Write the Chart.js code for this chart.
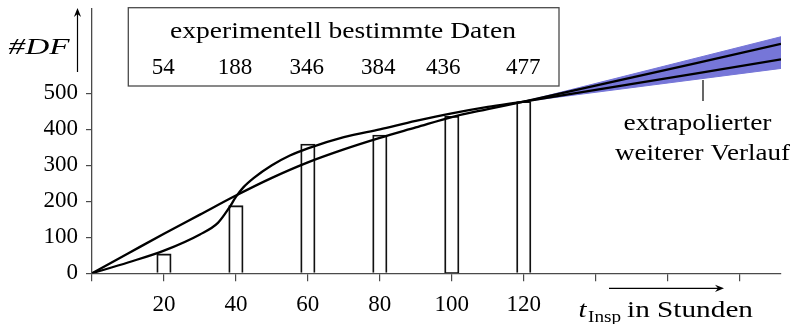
<!DOCTYPE html>
<html><head><meta charset="utf-8">
<script src="https://cdn.jsdelivr.net/npm/chart.js@4/dist/chart.umd.min.js"></script>
<style>html,body{margin:0;padding:0;background:#fff}#wrap{position:relative;width:794px;height:324px}</style>
</head><body><div id="wrap"><canvas id="c" width="794" height="324"></canvas></div>
<script>
// ---- data ----
const barX = [20, 40, 60, 80, 100, 120];
const barValues = [54, 188, 359, 384, 436, 477];
const tableTitle = 'experimentell bestimmte Daten';
const tableLabels = ['54', '188', '346', '384', '436', '477'];

const curveAX = [0, 10, 20, 30, 40, 50, 60, 70, 80, 90, 100, 110, 120, 191.5];
const curveAY = [0, 55, 110, 163, 216, 265, 308, 344, 376, 405, 434, 456, 477, 637];

const curveBX = [0, 10, 20, 30, 35, 38, 40, 42, 45, 50, 55, 60, 70, 80, 90, 100, 110, 120, 191.5];
const curveBY = [0, 30, 63, 108, 140, 180, 212, 238, 265, 300, 327, 347, 378, 400, 423, 444, 462, 477, 594];

const bandX = [120, 191.5];
const bandUpper = [477, 657];
const bandLower = [477, 569];

const xTicks = [0, 20, 40, 60, 80, 100, 120, 140, 160, 180];
const xTickLabels = ['', '20', '40', '60', '80', '100', '120', '', '', ''];
const yTicks = [0, 100, 200, 300, 400, 500];
const yTickLabels = ['0', '100', '200', '300', '400', '500'];

const yLabel = '#DF';
const xLabelMain = 't';
const xLabelSub = 'Insp';
const xLabelRest = ' in Stunden';
const noteLines = ['extrapolierter', 'weiterer Verlauf'];

// ---- helpers ----
const pts = (xs, ys) => xs.map((x, i) => ({x: x, y: ys[i]}));
const SERIF = '"Liberation Serif", "DejaVu Serif", serif';
const FS = 23;
const AXIS = '#4a4a4a';

function arrow(ctx, x1, y1, x2, y2) {
  const a = Math.atan2(y2 - y1, x2 - x1), L = 9, W = 3.6;
  ctx.beginPath(); ctx.moveTo(x1, y1);
  ctx.lineTo(x2 - Math.cos(a) * 5, y2 - Math.sin(a) * 5); ctx.stroke();
  ctx.beginPath();
  ctx.moveTo(x2, y2);
  ctx.lineTo(x2 - L * Math.cos(a) - W * Math.sin(a), y2 - L * Math.sin(a) + W * Math.cos(a));
  ctx.lineTo(x2 - 6 * Math.cos(a), y2 - 6 * Math.sin(a));
  ctx.lineTo(x2 - L * Math.cos(a) + W * Math.sin(a), y2 - L * Math.sin(a) - W * Math.cos(a));
  ctx.closePath(); ctx.fill();
}
// draw text stretched horizontally to span [left, left+width]
function fitText(ctx, text, left, baseline, width) {
  const w = ctx.measureText(text).width;
  ctx.save();
  ctx.translate(left, baseline);
  ctx.scale(width / w, 1);
  ctx.textAlign = 'left';
  ctx.fillText(text, 0, 0);
  ctx.restore();
}

const decor = {
  id: 'decor',
  afterDraw(chart) {
    const ctx = chart.ctx;
    ctx.save();
    ctx.textBaseline = 'alphabetic';
    // table box
    ctx.lineWidth = 1.3; ctx.strokeStyle = AXIS;
    ctx.fillStyle = '#fff';
    ctx.fillRect(128.3, 7.7, 430.7, 78.3);
    ctx.strokeRect(128.3, 7.7, 430.7, 78.3);
    ctx.fillStyle = '#000';
    ctx.font = FS + 'px ' + SERIF;
    fitText(ctx, tableTitle, 170, 37.5, 346);
    ctx.textAlign = 'center';
    const cx = [163.3, 235, 306.7, 378.3, 443.3, 523.3];
    tableLabels.forEach((t, i) => ctx.fillText(t, cx[i], 73.5));
    // y label + arrow
    ctx.font = 'italic ' + FS + 'px ' + SERIF;
    fitText(ctx, yLabel, 8.5, 53.5, 61);
    ctx.strokeStyle = '#000'; ctx.lineWidth = 1.2;
    arrow(ctx, 77.5, 72, 77.5, 8);
    // annotation
    ctx.beginPath(); ctx.moveTo(703, 80); ctx.lineTo(703, 101); ctx.stroke();
    ctx.font = FS + 'px ' + SERIF;
    fitText(ctx, noteLines[0], 623.5, 129.5, 148);
    fitText(ctx, noteLines[1], 615, 159.5, 175);
    // x label + arrow
    arrow(ctx, 609, 288.3, 724, 288.3);
    ctx.font = 'italic ' + FS + 'px ' + SERIF;
    fitText(ctx, xLabelMain, 578.5, 316.7, 8);
    ctx.font = '16px ' + SERIF;
    fitText(ctx, xLabelSub, 588, 321.5, 33);
    ctx.font = FS + 'px ' + SERIF;
    const rest = xLabelRest.trim();
    fitText(ctx, rest, 627, 316.7, 126);
    ctx.restore();
  }
};

new Chart(document.getElementById('c'), {
  type: 'line',
  data: {
    datasets: [
      { type: 'line', label: 'band lower', data: pts(bandX, bandLower), borderColor: '#7676d8', borderWidth: 1,
        pointRadius: 0, fill: false, tension: 0, order: 2 },
      { type: 'line', label: 'band upper', data: pts(bandX, bandUpper), borderColor: '#7676d8', borderWidth: 1,
        backgroundColor: '#7676d8', pointRadius: 0, fill: '-1', tension: 0, order: 2 },
      { type: 'bar', label: 'Daten', data: pts(barX, barValues), backgroundColor: 'rgba(255,255,255,0)',
        borderColor: '#111', borderWidth: 1.2, barThickness: 14.4, order: 3 },
      { type: 'line', label: 'Modell A', data: pts(curveAX, curveAY), borderColor: '#000', borderWidth: 2.3,
        pointRadius: 0, fill: false, cubicInterpolationMode: 'monotone', order: 1 },
      { type: 'line', label: 'Modell B', data: pts(curveBX, curveBY), borderColor: '#000', borderWidth: 2.3,
        pointRadius: 0, fill: false, cubicInterpolationMode: 'monotone', order: 1 }
    ]
  },
  options: {
    responsive: false, animation: false, devicePixelRatio: 1,
    layout: { padding: { top: 8.3, right: 13, left: 0, bottom: 0 } },
    plugins: { legend: { display: false }, tooltip: { enabled: false } },
    scales: {
      x: {
        type: 'linear', min: 0, max: 191.5, offset: false,
        afterBuildTicks: s => { s.ticks = xTicks.map(v => ({value: v})); },
        afterFit: s => { s.height = 50.7; s.paddingLeft = 0; s.paddingRight = 0; },
        ticks: { autoSkip: false, maxRotation: 0, padding: 10, color: '#000',
          font: { family: SERIF, size: FS },
          callback: v => { const i = xTicks.indexOf(v); return i >= 0 ? xTickLabels[i] : ''; } },
        grid: { drawOnChartArea: false, drawTicks: true, tickLength: 8, color: AXIS, lineWidth: 1.2, offset: false },
        border: { display: true, color: AXIS, width: 1.3 }
      },
      y: {
        type: 'linear', min: 0, max: 736,
        afterBuildTicks: s => { s.ticks = yTicks.map(v => ({value: v})); },
        afterFit: s => { s.width = 92; s.paddingTop = 0; s.paddingBottom = 0; },
        ticks: { autoSkip: false, padding: 8, color: '#000', font: { family: SERIF, size: FS },
          callback: v => { const i = yTicks.indexOf(v); return i >= 0 ? yTickLabels[i] : ''; } },
        grid: { drawOnChartArea: false, drawTicks: true, tickLength: 6, color: AXIS, lineWidth: 1.2 },
        border: { display: true, color: AXIS, width: 1.3 }
      }
    }
  },
  plugins: [decor]
});
</script></body></html>
